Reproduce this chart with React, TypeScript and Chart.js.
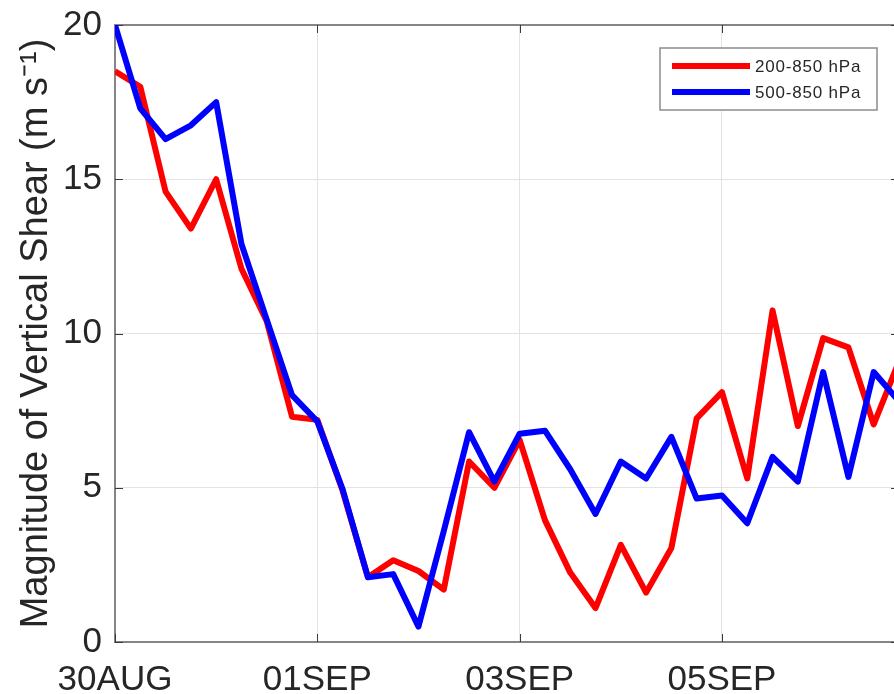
import React, { useEffect, useRef } from "react";
import { Chart, registerables } from "chart.js";

Chart.register(...registerables);

// Hours since 30AUG 00Z (6-hourly)
const hours = [
  0, 6, 12, 18, 24, 30, 36, 42, 48, 54, 60, 66, 72, 78, 84, 90,
  96, 102, 108, 114, 120, 126, 132, 138, 144, 150, 156, 162, 168, 174, 180, 186,
];
const tickHours = [0, 48, 96, 144];
const tickLabels = ["30AUG", "01SEP", "03SEP", "05SEP"];
const yTickValues = [0, 5, 10, 15, 20];

const shear200_850 = [
  18.5, 18.0, 14.6, 13.4, 15.0, 12.1, 10.4, 7.3, 7.2, 4.9, 2.1, 2.65, 2.3, 1.7, 5.85, 5.0,
  6.55, 3.95, 2.25, 1.1, 3.15, 1.6, 3.05, 7.25, 8.1, 5.3, 10.75, 7.0, 9.85, 9.55, 7.05, 9.1,
];
const shear500_850 = [
  20.0, 17.3, 16.3, 16.75, 17.5, 12.9, 10.45, 8.0, 7.15, 4.95, 2.1, 2.2, 0.5, 3.6, 6.8, 5.2,
  6.75, 6.85, 5.6, 4.15, 5.85, 5.3, 6.65, 4.65, 4.75, 3.85, 6.0, 5.2, 8.75, 5.35, 8.75, 7.8,
];
const seriesNames = ["200-850 hPa", "500-850 hPa"];
const seriesColors = ["#ff0000", "#0000ff"];

const FONT = "'Liberation Sans', Arial, Helvetica, sans-serif";
const TEXT = "#262626";
const AXIS = "#858585";

const framePlugin = {
  id: "frame",
  beforeDatasetsDraw(chart: any) {
    const { ctx, chartArea } = chart;
    const xs = chart.scales.x;
    const ys = chart.scales.y;
    ctx.save();
    ctx.strokeStyle = AXIS;
    ctx.lineWidth = 2;
    ctx.strokeRect(chartArea.left, chartArea.top, chartArea.right - chartArea.left, chartArea.bottom - chartArea.top);
    ctx.strokeStyle = "#3a3a3a";
    ctx.lineWidth = 1;
    const tl = 8;
    tickHours.forEach((h) => {
      const px = Math.round(xs.getPixelForValue(h)) + 0.5;
      ctx.beginPath();
      ctx.moveTo(px, chartArea.bottom);
      ctx.lineTo(px, chartArea.bottom - tl);
      ctx.moveTo(px, chartArea.top);
      ctx.lineTo(px, chartArea.top + tl);
      ctx.stroke();
    });
    yTickValues.forEach((v) => {
      const py = Math.round(ys.getPixelForValue(v)) + 0.5;
      ctx.beginPath();
      ctx.moveTo(chartArea.left, py);
      ctx.lineTo(chartArea.left + tl, py);
      ctx.moveTo(chartArea.right, py);
      ctx.lineTo(chartArea.right - tl, py);
      ctx.stroke();
    });
    ctx.restore();
  },
};

const legendPlugin = {
  id: "boxLegend",
  afterDraw(chart: any) {
    const { ctx, chartArea } = chart;
    const w = 217;
    const h = 62;
    const left = chartArea.right - 22 - w;
    const top = chartArea.top + 23;
    ctx.save();
    ctx.fillStyle = "#ffffff";
    ctx.fillRect(left, top, w, h);
    ctx.strokeStyle = "#8c8c8c";
    ctx.lineWidth = 1.5;
    ctx.strokeRect(left, top, w, h);
    ctx.font = `17px ${FONT}`;
    (ctx as any).letterSpacing = "0.8px";
    ctx.textBaseline = "middle";
    ctx.textAlign = "left";
    chart.data.datasets.forEach((ds: any, i: number) => {
      const y = top + 18 + i * 26;
      ctx.strokeStyle = ds.borderColor;
      ctx.lineWidth = 6;
      ctx.beginPath();
      ctx.moveTo(left + 12, y);
      ctx.lineTo(left + 90, y);
      ctx.stroke();
      ctx.fillStyle = TEXT;
      ctx.fillText(ds.label, left + 95, y + 1);
    });
    ctx.restore();
  },
};

export default function App() {
  const canvasRef = useRef<HTMLCanvasElement | null>(null);

  useEffect(() => {
    if (!canvasRef.current) return;
    Chart.defaults.font.family = FONT;
    const chart = new Chart(canvasRef.current, {
      type: "line",
      data: {
        datasets: [
          {
            label: seriesNames[0],
            data: hours.map((h, i) => ({ x: h, y: shear200_850[i] })),
            borderColor: seriesColors[0],
            backgroundColor: seriesColors[0],
            borderWidth: 6,
            pointRadius: 0,
            tension: 0,
            borderJoinStyle: "round",
            order: 1,
          },
          {
            label: seriesNames[1],
            data: hours.map((h, i) => ({ x: h, y: shear500_850[i] })),
            borderColor: seriesColors[1],
            backgroundColor: seriesColors[1],
            borderWidth: 6,
            pointRadius: 0,
            tension: 0,
            borderJoinStyle: "round",
            order: 0,
          },
        ],
      },
      options: {
        animation: false,
        responsive: true,
        maintainAspectRatio: false,
        layout: { padding: { top: 25, left: 0, right: 6, bottom: 0 } },
        plugins: { legend: { display: false }, tooltip: { enabled: false } },
        scales: {
          x: {
            type: "linear",
            min: 0,
            max: 186,
            afterFit: (s: any) => {
              s.height = 52;
              s.paddingLeft = 0;
              s.paddingRight = 0;
            },
            ticks: {
              stepSize: 48,
              includeBounds: false,
              autoSkip: false,
              maxRotation: 0,
              padding: 17,
              color: TEXT,
              font: { size: 35, family: FONT },
              callback: (v: any) => {
                const k = tickHours.indexOf(Number(v));
                return k >= 0 ? tickLabels[k] : "";
              },
            },
            grid: { color: "#e3e3e3", lineWidth: 1, drawTicks: false },
            border: { display: false },
          },
          y: {
            type: "linear",
            min: 0,
            max: 20,
            afterFit: (s: any) => {
              s.width = 115;
              s.paddingTop = 0;
              s.paddingBottom = 0;
            },
            ticks: {
              stepSize: 5,
              padding: 13,
              color: TEXT,
              font: { size: 35, family: FONT },
            },
            grid: { color: "#e3e3e3", lineWidth: 1, drawTicks: false },
            border: { display: false },
            title: {
              display: true,
              text: "Magnitude of Vertical Shear (m s\u207B\u00B9)",
              color: TEXT,
              font: { size: 38, family: FONT },
              padding: { top: 14, bottom: 0 },
            },
          },
        },
      },
      plugins: [framePlugin, legendPlugin],
    });
    return () => chart.destroy();
  }, []);

  return (
    <div
      style={{
        position: "fixed",
        left: 0,
        top: 0,
        width: 894,
        height: 694,
        overflow: "hidden",
        background: "#ffffff",
      }}
    >
      <div style={{ position: "relative", width: 905, height: 694 }}>
        <canvas ref={canvasRef} />
      </div>
    </div>
  );
}
